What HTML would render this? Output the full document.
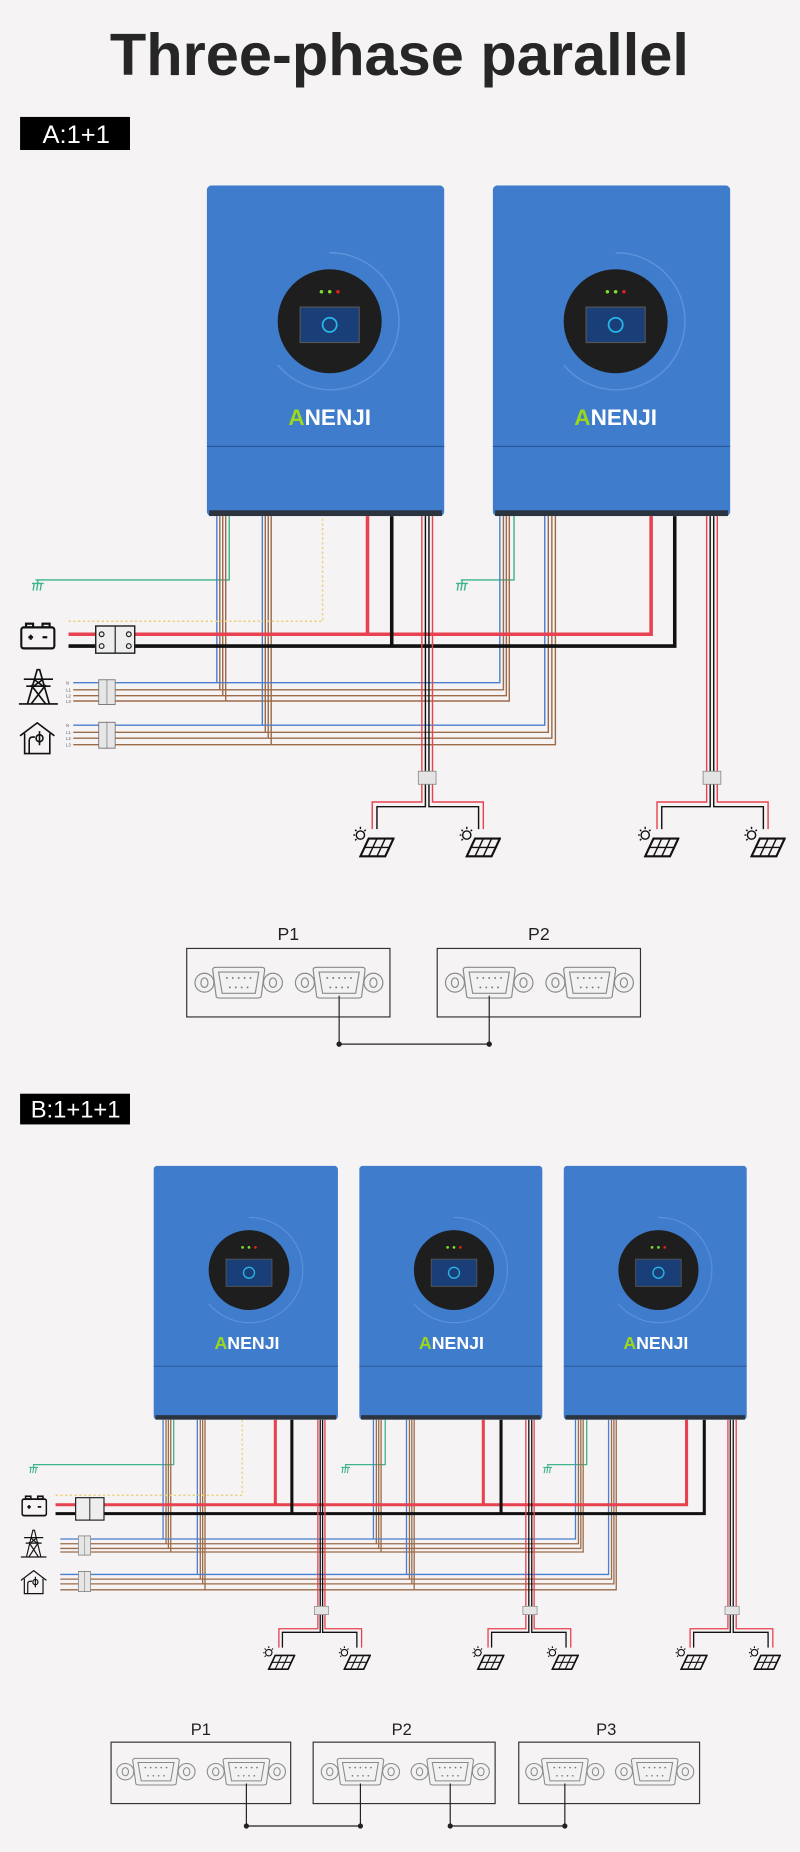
<!DOCTYPE html>
<html><head><meta charset="utf-8"><style>
html,body{margin:0;padding:0;background:#f5f3f3;}
svg{display:block;}
</style></head><body>
<svg width="800" height="1852" viewBox="0 0 677 1568" preserveAspectRatio="none" xmlns="http://www.w3.org/2000/svg" font-family="Liberation Sans, sans-serif">
<defs>
<symbol id="inv" viewBox="0 0 201 280" preserveAspectRatio="none">
  <rect x="0" y="0" width="201" height="280" rx="4" fill="#3f7dcc"/>
  <rect x="2" y="275" width="197" height="5" fill="#2c3440"/>
  <path d="M104,57 A58,58 0 1,1 60,152" fill="none" stroke="#5b93dc" stroke-width="1.2"/>
  <circle cx="104" cy="115" r="44" fill="#1e1e1e"/>
  <rect x="79" y="103" width="50" height="30" fill="#1a3f78" stroke="#555" stroke-width="1"/>
  <circle cx="104" cy="118" r="6" fill="none" stroke="#27b6e8" stroke-width="1.5"/>
  <circle cx="97" cy="90" r="1.5" fill="#7ede2a"/>
  <circle cx="104" cy="90" r="1.5" fill="#7ede2a"/>
  <circle cx="111" cy="90" r="1.5" fill="#e02020"/>
  <line x1="0" y1="221" x2="201" y2="221" stroke="#2a5494" stroke-width="1"/>
</symbol>
<symbol id="db9" viewBox="0 0 76 30" preserveAspectRatio="none">
  <g fill="#f2f2f2" stroke="#8a8a8a" stroke-width="1">
    <ellipse cx="9" cy="15" rx="8" ry="8"/><ellipse cx="9" cy="15" rx="3" ry="4"/>
    <ellipse cx="67" cy="15" rx="8" ry="8"/><ellipse cx="67" cy="15" rx="3" ry="4"/>
    <path d="M16,4 Q16,2 19,2 L57,2 Q60,2 60,4 L57,27 Q56,28 54,28 L22,28 Q20,28 19,27 Z"/>
    <path d="M21,6 L55,6 L52,24 L24,24 Z"/>
  </g>
  <g fill="#777">
    <circle cx="28" cy="11" r="0.8"/><circle cx="33" cy="11" r="0.8"/><circle cx="38" cy="11" r="0.8"/><circle cx="43" cy="11" r="0.8"/><circle cx="48" cy="11" r="0.8"/>
    <circle cx="30.5" cy="19" r="0.8"/><circle cx="35.5" cy="19" r="0.8"/><circle cx="40.5" cy="19" r="0.8"/><circle cx="45.5" cy="19" r="0.8"/>
  </g>
</symbol>
<symbol id="pv" viewBox="0 0 36 27" preserveAspectRatio="none">
  <g stroke="#111" fill="none" stroke-width="1.2">
    <circle cx="7" cy="8" r="3.5"/>
    <line x1="7" y1="1" x2="7" y2="3"/><line x1="1" y1="8" x2="2.5" y2="8"/><line x1="2.5" y1="3.5" x2="3.7" y2="4.7"/><line x1="11.5" y1="3.5" x2="10.3" y2="4.7"/><line x1="2.5" y1="12.5" x2="3.7" y2="11.3"/>
    <polygon points="14,11 35,11 28,26 7,26" stroke-width="1.8"/>
    <line x1="21" y1="11" x2="14" y2="26"/><line x1="28" y1="11" x2="21" y2="26"/>
    <line x1="10.5" y1="18.5" x2="31.5" y2="18.5"/>
  </g>
</symbol>
<symbol id="gnd" viewBox="0 0 12 10" preserveAspectRatio="none">
  <g stroke="#3db48a" stroke-width="1.2" fill="none"><line x1="1" y1="3" x2="11" y2="3"/><line x1="6" y1="0" x2="6" y2="3"/><line x1="3" y1="3" x2="2" y2="9"/><line x1="6" y1="3" x2="5" y2="9"/><line x1="9" y1="3" x2="8" y2="9"/></g>
</symbol>
<symbol id="brk" viewBox="0 0 15 22" preserveAspectRatio="none">
  <rect x="0.5" y="0.5" width="14" height="21" fill="#e6e6e6" stroke="#777" stroke-width="0.8"/>
  <line x1="7.5" y1="0" x2="7.5" y2="22" stroke="#777" stroke-width="0.6"/>
</symbol>
<symbol id="bat" viewBox="0 0 30 22" preserveAspectRatio="none">
  <g stroke="#111" stroke-width="1.8" fill="none"><rect x="1" y="4" width="28" height="17" rx="2"/><rect x="5" y="1" width="6" height="3"/><rect x="19" y="1" width="6" height="3"/><line x1="7" y1="12" x2="11" y2="12"/><line x1="9" y1="10" x2="9" y2="14"/><line x1="19" y1="12" x2="23" y2="12"/></g>
</symbol>
<symbol id="tower" viewBox="0 0 34 32" preserveAspectRatio="none">
  <g stroke="#111" stroke-width="1.4" fill="none"><line x1="1" y1="31" x2="33" y2="31"/><polyline points="8,31 16,2 18,2 26,31"/><line x1="5" y1="10" x2="29" y2="10"/><line x1="7" y1="16" x2="27" y2="16"/><line x1="11" y1="15" x2="23" y2="31"/><line x1="23" y1="15" x2="11" y2="31"/><line x1="13" y1="10" x2="21" y2="16"/><line x1="21" y1="10" x2="13" y2="16"/></g>
</symbol>
<symbol id="house" viewBox="0 0 32 28" preserveAspectRatio="none">
  <g stroke="#111" stroke-width="1.4" fill="none"><polyline points="1,12 16,1 31,12"/><polyline points="5,10 5,27 27,27 27,10"/><path d="M9,27 V16 Q9,13 12,13 H14"/><circle cx="18" cy="14" r="3"/><line x1="18" y1="8" x2="18" y2="20"/></g>
</symbol>
</defs>

<rect x="0" y="0" width="677" height="1568" fill="#f5f3f3"/>
<text x="338" y="63.5" text-anchor="middle" font-size="50" font-weight="bold" fill="#262626" textLength="490" lengthAdjust="spacingAndGlyphs">Three-phase parallel</text>

<!-- ===== A ===== -->
<rect x="17" y="99" width="93" height="28" fill="#000"/>
<text x="36" y="121" font-size="21" fill="#fff" textLength="57" lengthAdjust="spacingAndGlyphs">A:1+1</text>

<g fill="none">
<!-- left inverter wires -->
<g stroke-width="1.2">
 <polyline points="194,437 194,491 30,491" stroke="#3db48a"/>
 <polyline points="435,437 435,491 390,491" stroke="#3db48a"/>
 <polyline points="183.5,437 183.5,578" stroke="#4a7fd0"/>
 <polyline points="186,437 186,584" stroke="#9b6b4a"/>
 <polyline points="188.5,437 188.5,589" stroke="#9b6b4a"/>
 <polyline points="191,437 191,593.5" stroke="#9b6b4a"/>
 <polyline points="222,437 222,614" stroke="#4a7fd0"/>
 <polyline points="224.5,437 224.5,620" stroke="#9b6b4a"/>
 <polyline points="227,437 227,625" stroke="#9b6b4a"/>
 <polyline points="229.5,437 229.5,630.5" stroke="#9b6b4a"/>
 <polyline points="62,578 423,578 423,437" stroke="#4a7fd0"/>
 <polyline points="62,584 426,584 426,437" stroke="#9b6b4a"/>
 <polyline points="62,589 428.5,589 428.5,437" stroke="#9b6b4a"/>
 <polyline points="62,593.5 431,593.5 431,437" stroke="#9b6b4a"/>
 <polyline points="62,614 461,614 461,437" stroke="#4a7fd0"/>
 <polyline points="62,620 464,620 464,437" stroke="#9b6b4a"/>
 <polyline points="62,625 467,625 467,437" stroke="#9b6b4a"/>
 <polyline points="62,630.5 470,630.5 470,437" stroke="#9b6b4a"/>
 <polyline points="58,526 273,526 273,437" stroke="#e8d27a" stroke-dasharray="2,2"/>
</g>
<polyline points="58,537 551,537 551,437" stroke="#e8414f" stroke-width="3"/>
<polyline points="311,437 311,537" stroke="#e8414f" stroke-width="3"/>
<polyline points="58,547 571,547 571,437" stroke="#111" stroke-width="3"/>
<polyline points="331.5,437 331.5,547" stroke="#111" stroke-width="3"/>
<!-- PV A left -->
<g stroke-width="1.2">
 <polyline points="357,437 357,679 315,679 315,702" stroke="#e8414f"/>
 <polyline points="360,437 360,683 319,683 319,702" stroke="#111"/>
 <polyline points="363,437 363,683 405,683 405,702" stroke="#111"/>
 <polyline points="366,437 366,679 409,679 409,702" stroke="#e8414f"/>
 <polyline points="598,437 598,679 556,679 556,702" stroke="#e8414f"/>
 <polyline points="601,437 601,683 560,683 560,702" stroke="#111"/>
 <polyline points="604,437 604,683 646,683 646,702" stroke="#111"/>
 <polyline points="607,437 607,679 650,679 650,702" stroke="#e8414f"/>
</g>
</g>
<use href="#inv" x="175" y="157" width="201" height="280"/>
<use href="#inv" x="417" y="157" width="201" height="280"/>
<text x="279" y="360" text-anchor="middle" font-size="19" font-weight="bold" fill="#fff" textLength="70" lengthAdjust="spacingAndGlyphs"><tspan fill="#9cd81a">A</tspan>NENJI</text>
<text x="521" y="360" text-anchor="middle" font-size="19" font-weight="bold" fill="#fff" textLength="70" lengthAdjust="spacingAndGlyphs"><tspan fill="#9cd81a">A</tspan>NENJI</text>

<use href="#gnd" x="26" y="491" width="12" height="10"/>
<use href="#gnd" x="385" y="491" width="12" height="10"/>
<use href="#bat" x="17" y="527" width="30" height="23"/>
<rect x="81" y="530" width="33" height="23" fill="#eee" stroke="#222" stroke-width="1.2"/>
<line x1="97.5" y1="530" x2="97.5" y2="553" stroke="#222" stroke-width="1"/>
<circle cx="86" cy="537" r="2" fill="none" stroke="#222"/><circle cx="109" cy="537" r="2" fill="none" stroke="#222"/>
<circle cx="86" cy="547" r="2" fill="none" stroke="#222"/><circle cx="109" cy="547" r="2" fill="none" stroke="#222"/>
<use href="#tower" x="15" y="565" width="35" height="32"/>
<use href="#house" x="16" y="611" width="31" height="28"/>
<use href="#brk" x="83" y="575" width="15" height="22"/>
<use href="#brk" x="83" y="611" width="15" height="23"/>
<g font-size="3.5" fill="#555"><text x="56" y="579.5">N</text><text x="56" y="585.5">L1</text><text x="56" y="590.5">L2</text><text x="56" y="595">L3</text>
<text x="56" y="615.5">N</text><text x="56" y="621.5">L1</text><text x="56" y="626.5">L2</text><text x="56" y="632">L3</text></g>
<rect x="354" y="653" width="15" height="11" fill="#e4e4e4" stroke="#888" stroke-width="0.7"/>
<rect x="595" y="653" width="15" height="11" fill="#e4e4e4" stroke="#888" stroke-width="0.7"/>
<use href="#pv" x="298" y="699" width="36" height="27"/>
<use href="#pv" x="388" y="699" width="36" height="27"/>
<use href="#pv" x="539" y="699" width="36" height="27"/>
<use href="#pv" x="629" y="699" width="36" height="27"/>

<!-- P A -->
<text x="244" y="796" text-anchor="middle" font-size="15" fill="#222">P1</text>
<text x="456" y="796" text-anchor="middle" font-size="15" fill="#222">P2</text>
<rect x="158" y="803" width="172" height="58" fill="none" stroke="#333" stroke-width="1"/>
<rect x="370" y="803" width="172" height="58" fill="none" stroke="#333" stroke-width="1"/>
<use href="#db9" x="164" y="817" width="76" height="30"/>
<use href="#db9" x="249" y="817" width="76" height="30"/>
<use href="#db9" x="376" y="817" width="76" height="30"/>
<use href="#db9" x="461" y="817" width="76" height="30"/>
<polyline points="287,843 287,884 414,884 414,843" fill="none" stroke="#222" stroke-width="1"/>
<circle cx="287" cy="884" r="2.3" fill="#222"/><circle cx="414" cy="884" r="2.3" fill="#222"/>

<!-- ===== B ===== -->
<rect x="17" y="926" width="93" height="26" fill="#000"/>
<text x="26" y="946" font-size="20" fill="#fff" textLength="76" lengthAdjust="spacingAndGlyphs">B:1+1+1</text>

<g fill="none" stroke-width="1.1">
 <polyline points="147,1202 147,1240 28,1240" stroke="#3db48a"/>
 <polyline points="326,1202 326,1240 292,1240" stroke="#3db48a"/>
 <polyline points="496.5,1202 496.5,1240 463,1240" stroke="#3db48a"/>
 <polyline points="138,1202 138,1303" stroke="#4a7fd0"/>
 <polyline points="140.5,1202 140.5,1307" stroke="#9b6b4a"/>
 <polyline points="142.5,1202 142.5,1311" stroke="#9b6b4a"/>
 <polyline points="144.5,1202 144.5,1314" stroke="#9b6b4a"/>
 <polyline points="316,1202 316,1303" stroke="#4a7fd0"/>
 <polyline points="318.5,1202 318.5,1307" stroke="#9b6b4a"/>
 <polyline points="320.5,1202 320.5,1311" stroke="#9b6b4a"/>
 <polyline points="322.5,1202 322.5,1314" stroke="#9b6b4a"/>
 <polyline points="51,1303 487,1303 487,1202" stroke="#4a7fd0"/>
 <polyline points="51,1307 489.5,1307 489.5,1202" stroke="#9b6b4a"/>
 <polyline points="51,1311 491.5,1311 491.5,1202" stroke="#9b6b4a"/>
 <polyline points="51,1314 493.5,1314 493.5,1202" stroke="#9b6b4a"/>
 <polyline points="167,1202 167,1333" stroke="#4a7fd0"/>
 <polyline points="169.5,1202 169.5,1337" stroke="#9b6b4a"/>
 <polyline points="171.5,1202 171.5,1341" stroke="#9b6b4a"/>
 <polyline points="173.5,1202 173.5,1346" stroke="#9b6b4a"/>
 <polyline points="344,1202 344,1333" stroke="#4a7fd0"/>
 <polyline points="346.5,1202 346.5,1337" stroke="#9b6b4a"/>
 <polyline points="348.5,1202 348.5,1341" stroke="#9b6b4a"/>
 <polyline points="350.5,1202 350.5,1346" stroke="#9b6b4a"/>
 <polyline points="51,1333 515,1333 515,1202" stroke="#4a7fd0"/>
 <polyline points="51,1337 517.5,1337 517.5,1202" stroke="#9b6b4a"/>
 <polyline points="51,1341 519.5,1341 519.5,1202" stroke="#9b6b4a"/>
 <polyline points="51,1346 521.5,1346 521.5,1202" stroke="#9b6b4a"/>
 <polyline points="47,1266 205,1266 205,1202" stroke="#e8d27a" stroke-dasharray="2,2"/>
</g>
<g fill="none" stroke-width="2.6">
 <polyline points="47,1274 581,1274 581,1202" stroke="#e8414f"/>
 <line x1="233" y1="1202" x2="233" y2="1274" stroke="#e8414f"/>
 <line x1="409" y1="1202" x2="409" y2="1274" stroke="#e8414f"/>
 <polyline points="47,1281.5 596,1281.5 596,1202" stroke="#111"/>
 <line x1="247" y1="1202" x2="247" y2="1281.5" stroke="#111"/>
 <line x1="424" y1="1202" x2="424" y2="1281.5" stroke="#111"/>
</g>
<g fill="none" stroke-width="1.1">
 <polyline points="269,1202 269,1379 236,1379 236,1395" stroke="#e8414f"/>
 <polyline points="271,1202 271,1382 239,1382 239,1395" stroke="#111"/>
 <polyline points="273,1202 273,1382 302,1382 302,1395" stroke="#111"/>
 <polyline points="275,1202 275,1379 306,1379 306,1395" stroke="#e8414f"/>
 <polyline points="445,1202 445,1379 413,1379 413,1395" stroke="#e8414f"/>
 <polyline points="447.5,1202 447.5,1382 416,1382 416,1395" stroke="#111"/>
 <polyline points="450,1202 450,1382 479,1382 479,1395" stroke="#111"/>
 <polyline points="452,1202 452,1379 483,1379 483,1395" stroke="#e8414f"/>
 <polyline points="616,1202 616,1379 584,1379 584,1395" stroke="#e8414f"/>
 <polyline points="618,1202 618,1382 587,1382 587,1395" stroke="#111"/>
 <polyline points="620.5,1202 620.5,1382 650,1382 650,1395" stroke="#111"/>
 <polyline points="623,1202 623,1379 654,1379 654,1395" stroke="#e8414f"/>
</g>
<use href="#inv" x="130" y="987" width="156" height="215"/>
<use href="#inv" x="304" y="987" width="155" height="215"/>
<use href="#inv" x="477" y="987" width="155" height="215"/>
<text x="209" y="1142" text-anchor="middle" font-size="15" font-weight="bold" fill="#fff" textLength="55" lengthAdjust="spacingAndGlyphs"><tspan fill="#9cd81a">A</tspan>NENJI</text>
<text x="382" y="1142" text-anchor="middle" font-size="15" font-weight="bold" fill="#fff" textLength="55" lengthAdjust="spacingAndGlyphs"><tspan fill="#9cd81a">A</tspan>NENJI</text>
<text x="555" y="1142" text-anchor="middle" font-size="15" font-weight="bold" fill="#fff" textLength="55" lengthAdjust="spacingAndGlyphs"><tspan fill="#9cd81a">A</tspan>NENJI</text>

<use href="#gnd" x="24" y="1240" width="9" height="8"/>
<use href="#gnd" x="288" y="1240" width="9" height="8"/>
<use href="#gnd" x="459" y="1240" width="9" height="8"/>
<use href="#bat" x="18" y="1266" width="22" height="18"/>
<rect x="64" y="1268" width="24" height="19" fill="#eee" stroke="#222" stroke-width="1"/>
<line x1="76" y1="1268" x2="76" y2="1287" stroke="#222" stroke-width="0.8"/>
<use href="#tower" x="17" y="1294" width="23" height="25"/>
<use href="#house" x="17" y="1329" width="23" height="21"/>
<use href="#brk" x="66" y="1300" width="11" height="17"/>
<use href="#brk" x="66" y="1330" width="11" height="18"/>
<rect x="266" y="1360" width="12" height="7" fill="#e4e4e4" stroke="#888" stroke-width="0.6"/>
<rect x="442.5" y="1360" width="12" height="7" fill="#e4e4e4" stroke="#888" stroke-width="0.6"/>
<rect x="613.5" y="1360" width="12" height="7" fill="#e4e4e4" stroke="#888" stroke-width="0.6"/>
<use href="#pv" x="222" y="1393" width="28" height="21"/>
<use href="#pv" x="286" y="1393" width="28" height="21"/>
<use href="#pv" x="399" y="1393" width="28" height="21"/>
<use href="#pv" x="462" y="1393" width="28" height="21"/>
<use href="#pv" x="571" y="1393" width="28" height="21"/>
<use href="#pv" x="633" y="1393" width="28" height="21"/>

<!-- P B -->
<text x="170" y="1469" text-anchor="middle" font-size="14" fill="#222">P1</text>
<text x="340" y="1469" text-anchor="middle" font-size="14" fill="#222">P2</text>
<text x="513" y="1469" text-anchor="middle" font-size="14" fill="#222">P3</text>
<rect x="94" y="1475" width="152" height="52" fill="none" stroke="#333" stroke-width="1"/>
<rect x="265" y="1475" width="154" height="52" fill="none" stroke="#333" stroke-width="1"/>
<rect x="439" y="1475" width="153" height="52" fill="none" stroke="#333" stroke-width="1"/>
<use href="#db9" x="98" y="1487" width="68" height="26"/>
<use href="#db9" x="174.5" y="1487" width="68" height="26"/>
<use href="#db9" x="271" y="1487" width="68" height="26"/>
<use href="#db9" x="347" y="1487" width="68" height="26"/>
<use href="#db9" x="444" y="1487" width="68" height="26"/>
<use href="#db9" x="520" y="1487" width="68" height="26"/>
<polyline points="208.5,1510 208.5,1546 305,1546 305,1510" fill="none" stroke="#222" stroke-width="1"/>
<polyline points="381,1510 381,1546 478,1546 478,1510" fill="none" stroke="#222" stroke-width="1"/>
<circle cx="208.5" cy="1546" r="2.2" fill="#222"/><circle cx="305" cy="1546" r="2.2" fill="#222"/>
<circle cx="381" cy="1546" r="2.2" fill="#222"/><circle cx="478" cy="1546" r="2.2" fill="#222"/>
</svg>
</body></html>
